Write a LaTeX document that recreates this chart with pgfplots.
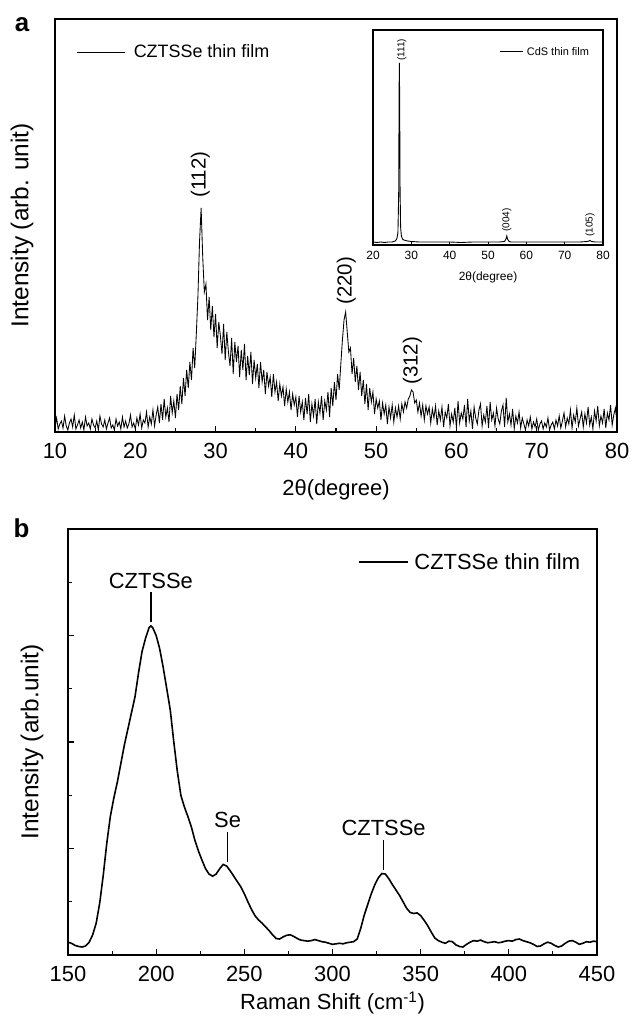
\documentclass[border=0pt]{standalone}
\usepackage{pgfplots}
\pgfplotsset{compat=1.18}
\usepackage{fontspec}
\setmainfont{Liberation Sans}
\newcommand{\fs}[1]{\fontsize{#1}{#1}\selectfont}

\pgfplotstableread{
x y
10.0 5
10.2 14
10.4 3
10.6 8
10.8 11
11.0 4
11.2 16
11.4 6
11.6 2
11.8 9
12.0 13
12.2 5
12.4 17
12.6 3
12.8 7
13.0 12
13.2 4
13.4 10
13.6 2
13.8 15
14.0 6
14.2 9
14.4 3
14.6 13
14.8 7
15.0 4
15.2 11
15.4 2
15.6 16
15.8 8
16.0 5
16.2 12
16.4 3
16.6 9
16.8 14
17.0 4
17.2 7
17.4 2
17.6 13
17.8 6
18.0 10
18.2 3
18.4 15
18.6 5
18.8 11
19.0 4
19.2 8
19.4 17
19.6 5
19.8 9
20.0 3
20.2 14
20.4 7
20.6 18
20.8 4
21.0 12
21.2 9
21.4 20
21.6 5
21.8 15
22.0 8
22.2 22
22.4 6
22.6 17
22.8 25
23.0 9
23.2 28
23.4 12
23.6 33
23.8 15
24.0 24
24.2 10
24.4 36
24.6 19
24.8 31
25.0 14
25.2 38
25.4 22
25.6 46
25.8 28
26.0 54
26.2 36
26.4 62
26.6 44
26.8 70
27.0 52
27.2 84
27.4 64
27.6 98
27.8 135
28.0 190
28.2 224
28.4 175
28.6 140
28.8 148
29.0 112
29.2 135
29.4 102
29.6 126
29.8 95
30.0 118
30.2 84
30.4 110
30.6 96
30.8 78
31.0 108
31.2 72
31.4 100
31.6 80
31.8 66
32.0 94
32.2 58
32.4 90
32.6 70
32.8 86
33.0 55
33.2 82
33.4 62
33.6 88
33.8 52
34.0 76
34.2 57
34.4 80
34.6 48
34.8 72
35.0 54
35.2 68
35.4 44
35.6 70
35.8 50
36.0 62
36.2 38
36.4 60
36.6 46
36.8 55
37.0 35
37.2 58
37.4 40
37.6 50
37.8 31
38.0 48
38.2 36
38.4 45
38.6 26
38.8 43
39.0 30
39.2 40
39.4 22
39.6 38
39.8 27
40.0 35
40.2 15
40.4 36
40.6 20
40.8 30
41.0 12
41.2 34
41.4 18
41.6 38
41.8 10
42.0 28
42.2 16
42.4 33
42.6 8
42.8 30
43.0 19
43.2 36
43.4 12
43.6 31
43.8 22
44.0 40
44.2 15
44.4 44
44.6 26
44.8 50
45.0 32
45.2 58
45.4 42
45.6 68
45.8 92
46.0 112
46.2 120
46.4 100
46.6 80
46.8 84
47.0 58
47.2 74
47.4 50
47.6 66
47.8 42
48.0 60
48.2 36
48.4 52
48.6 28
48.8 48
49.0 22
49.2 44
49.4 30
49.6 40
49.8 18
50.0 33
50.2 24
50.4 31
50.6 12
50.8 29
51.0 18
51.2 27
51.4 8
51.6 25
51.8 14
52.0 27
52.2 10
52.4 24
52.6 15
52.8 26
53.0 13
53.2 28
53.4 20
53.6 30
53.8 24
54.0 33
54.2 36
54.4 42
54.6 40
54.8 29
55.0 32
55.2 20
55.4 29
55.6 16
55.8 27
56.0 12
56.2 26
56.4 18
56.6 25
56.8 9
57.0 23
57.2 14
57.4 26
57.6 7
57.8 21
58.0 12
58.2 25
58.4 5
58.6 20
58.8 14
59.0 28
59.2 6
59.4 18
59.6 10
59.8 24
60.0 4
60.2 31
60.4 9
60.6 19
60.8 13
61.0 27
61.2 5
61.4 33
61.6 11
61.8 21
62.0 3
62.2 25
62.4 14
62.6 8
62.8 22
63.0 28
63.2 6
63.4 17
63.6 10
63.8 26
64.0 4
64.2 30
64.4 12
64.6 19
64.8 6
65.0 24
65.2 13
65.4 8
65.6 21
65.8 27
66.0 5
66.2 34
66.4 10
66.6 18
66.8 7
67.0 23
67.2 3
67.4 16
67.6 9
67.8 20
68.0 4
68.2 14
68.4 8
68.6 2
68.8 12
69.0 6
69.2 15
69.4 3
69.6 10
69.8 5
70.0 13
70.2 2
70.4 8
70.6 11
70.8 3
71.0 9
71.2 5
71.4 14
71.6 2
71.8 7
72.0 10
72.2 3
72.4 12
72.6 6
72.8 16
73.0 4
73.2 11
73.4 19
73.6 5
73.8 14
74.0 8
74.2 22
74.4 4
74.6 17
74.8 10
75.0 24
75.2 6
75.4 13
75.6 20
75.8 5
76.0 18
76.2 9
76.4 25
76.6 7
76.8 15
77.0 3
77.2 21
77.4 11
77.6 26
77.8 6
78.0 16
78.2 9
78.4 23
78.6 4
78.8 19
79.0 12
79.2 27
79.4 7
79.6 17
79.8 24
80.0 10
}\xrdczts

\pgfplotstableread{
x y
20 3
21 2.5
22 3
23 2.5
24 3
25 3
25.8 4
26.2 6
26.5 12
26.7 50
26.8 140
26.86 182
26.95 150
27.05 60
27.2 18
27.4 9
27.7 6
28 5
29 4
30 3.5
32 3
35 3
38 3
40 3
43 2.5
46 3
50 3
53 3
54.3 3.5
54.7 6
54.9 9
55.1 6
55.5 3.5
56 3
60 3
65 3
70 3
74 3
76 3.5
76.6 4.5
77 3.5
78 3
80 3
}\xrdcds

\pgfplotstableread{
x y
150 0.24
152 0.22
154 0.18
156 0.16
158 0.15
160 0.17
162 0.24
164 0.38
166 0.6
168 0.98
170 1.5
172 2.1
174 2.6
176 2.95
178 3.25
180 3.6
182 3.95
184 4.25
186 4.55
188 4.85
190 5.3
192 5.7
194 5.95
196 6.15
197 6.18
198 6.15
200 6.0
202 5.75
204 5.4
206 5.0
208 4.6
210 4.0
212 3.45
214 3.0
216 2.78
218 2.6
220 2.4
222 2.15
224 1.95
226 1.78
228 1.62
230 1.52
232 1.48
234 1.52
236 1.62
238 1.7
240 1.67
242 1.58
244 1.48
246 1.38
248 1.28
250 1.15
252 1.0
254 0.86
256 0.74
258 0.66
260 0.6
262 0.53
264 0.46
266 0.38
268 0.31
270 0.3
272 0.34
274 0.37
276 0.38
278 0.35
280 0.31
282 0.28
284 0.27
286 0.26
288 0.27
290 0.29
292 0.27
294 0.25
296 0.24
298 0.22
300 0.2
302 0.21
304 0.22
306 0.21
308 0.23
310 0.24
312 0.25
314 0.3
316 0.5
318 0.75
320 0.95
322 1.15
324 1.32
326 1.45
328 1.53
330 1.52
332 1.43
334 1.32
336 1.22
338 1.12
340 1.0
342 0.88
344 0.8
346 0.78
348 0.79
350 0.74
352 0.65
354 0.55
356 0.43
358 0.32
360 0.27
362 0.24
364 0.22
366 0.26
368 0.25
370 0.19
372 0.16
374 0.15
376 0.2
378 0.24
380 0.27
382 0.26
384 0.28
386 0.25
388 0.23
390 0.24
392 0.25
394 0.23
396 0.24
398 0.26
400 0.27
402 0.26
404 0.29
406 0.3
408 0.27
410 0.25
412 0.23
414 0.2
416 0.16
418 0.17
420 0.21
422 0.24
424 0.22
426 0.18
428 0.15
430 0.17
432 0.22
434 0.26
436 0.27
438 0.24
440 0.2
442 0.22
444 0.25
446 0.24
448 0.26
450 0.25
}\raman

\pgfplotsset{
  panel/.style={
    scale only axis, anchor=south west,
    axis line style={line width=1.8bp},
    tick style={line width=1.1bp, black},
    tick align=inside,
    xtick pos=left, ytick pos=left,
    /pgf/number format/assume math mode=true,
    /pgf/number format/1000 sep={},
    ticklabel style={font=\fs{22}},
    xticklabel style={yshift=-8bp},
    label style={font=\fs{22}},
    ylabel style={font=\fs{24.5}},
    major tick length=6bp, minor tick length=3.5bp,
  },
}

\begin{document}
\begin{tikzpicture}
\useasboundingbox (0,0) rectangle (632bp,1024bp);

% ---------- panel a ----------
\begin{axis}[panel,
  at={(55bp,592bp)}, width=562bp, height=413bp,
  xmin=10, xmax=80, ymin=0, ymax=413,
  xtick={10,20,...,80}, minor x tick num=1,
  ytick=\empty,
  xlabel={2θ(degree)},
  ylabel={Intensity (arb. unit)},
  xlabel style={at={(axis description cs:0.5,-0.1404)}, anchor=center},
  ylabel style={at={(axis description cs:-0.0587,0.5)}, anchor=center},
  legend style={draw=none, fill=none, at={(axis description cs:0.039,0.92)}, anchor=west,
    inner sep=0pt, outer sep=0pt, column sep=8bp, nodes={inner sep=0pt, font=\fs{18}}},
  legend image code/.code={\draw[#1] (0bp,0bp) -- (48bp,0bp);},
]
\addplot[black, line width=0.85bp] table[x=x,y=y] {\xrdczts};
\addlegendentry{CZTSSe thin film}
\node[rotate=90, anchor=west, inner sep=0pt, font=\fs{20.5}] at (axis cs:28.1,234) {(112)};
\node[rotate=90, anchor=west, inner sep=0pt, font=\fs{20.5}] at (axis cs:46.3,127) {(220)};
\node[rotate=90, anchor=west, inner sep=0pt, font=\fs{20.5}] at (axis cs:54.5,47) {(312)};
\end{axis}

% ---------- inset ----------
\begin{axis}[scale only axis, anchor=south west,
  at={(373bp,779bp)}, width=230bp, height=215bp,
  axis line style={line width=1.1bp},
  tick style={line width=0.7bp, black}, tick align=inside,
  xtick pos=left, ytick pos=left,
  major tick length=2.5bp,
  /pgf/number format/assume math mode=true,
  ticklabel style={font=\fs{12}},
  xticklabel style={yshift=-3bp},
  label style={font=\fs{12}},
  xmin=20, xmax=80, ymin=0, ymax=215,
  xtick={20,30,...,80}, ytick=\empty,
  xlabel={2θ(degree)},
  xlabel style={at={(axis description cs:0.5,-0.149)}, anchor=center},
  legend style={draw=none, fill=none, at={(axis description cs:0.552,0.898)}, anchor=west,
    inner sep=0pt, outer sep=0pt, column sep=3bp, nodes={inner sep=0pt, font=\fs{11}}},
  legend image code/.code={\draw[#1] (0bp,0bp) -- (23bp,0bp);},
]
\addplot[black, line width=0.9bp] table[x=x,y=y] {\xrdcds};
\addlegendentry{CdS thin film}
\node[rotate=90, anchor=west, inner sep=0pt, font=\fs{10}] at (axis cs:27.5,184) {(111)};
\node[rotate=90, anchor=west, inner sep=0pt, font=\fs{10}] at (axis cs:54.9,13) {(004)};
\node[rotate=90, anchor=west, inner sep=0pt, font=\fs{10}] at (axis cs:76.6,8) {(105)};
\end{axis}

% ---------- panel b ----------
\begin{axis}[panel,
  at={(68bp,69bp)}, width=529bp, height=426bp,
  xmin=150, xmax=450, ymin=0, ymax=8,
  xtick={150,200,...,450}, minor x tick num=1,
  ytick={2,4,6}, minor ytick={1,3,5,7}, yticklabels={},
  xlabel={Raman Shift (cm\textsuperscript{-1})},
  ylabel={Intensity (arb.unit)},
  xlabel style={at={(axis description cs:0.5,-0.1127)}, anchor=center},
  ylabel style={at={(axis description cs:-0.068,0.5)}, anchor=center},
  legend style={draw=none, fill=none, at={(axis description cs:0.548,0.9225)}, anchor=west,
    inner sep=0pt, outer sep=0pt, column sep=6bp, nodes={inner sep=0pt, font=\fs{22}}},
  legend image code/.code={\draw[#1] (0bp,0bp) -- (49bp,0bp);},
]
\addplot[black, line width=1.6bp] table[x=x,y=y] {\raman};
\addlegendentry{CZTSSe thin film}
\addplot[black, line width=1.3bp, forget plot] coordinates {(197,6.25) (197,6.82)};
\addplot[black, line width=1.3bp, forget plot] coordinates {(240.5,1.75) (240.5,2.31)};
\addplot[black, line width=1.3bp, forget plot] coordinates {(329,1.60) (329,2.16)};
\node[anchor=base, inner sep=0pt, font=\fs{22}] at (axis cs:197,6.88) {CZTSSe};
\node[anchor=base, inner sep=0pt, font=\fs{22}] at (axis cs:240.5,2.39) {Se};
\node[anchor=base, inner sep=0pt, font=\fs{22}] at (axis cs:329,2.24) {CZTSSe};
\end{axis}

\node[font=\bfseries\fs{26}] at (22bp,999bp) {a};
\node[font=\bfseries\fs{26}] at (21.5bp,495.5bp) {b};
\end{tikzpicture}
\end{document}
